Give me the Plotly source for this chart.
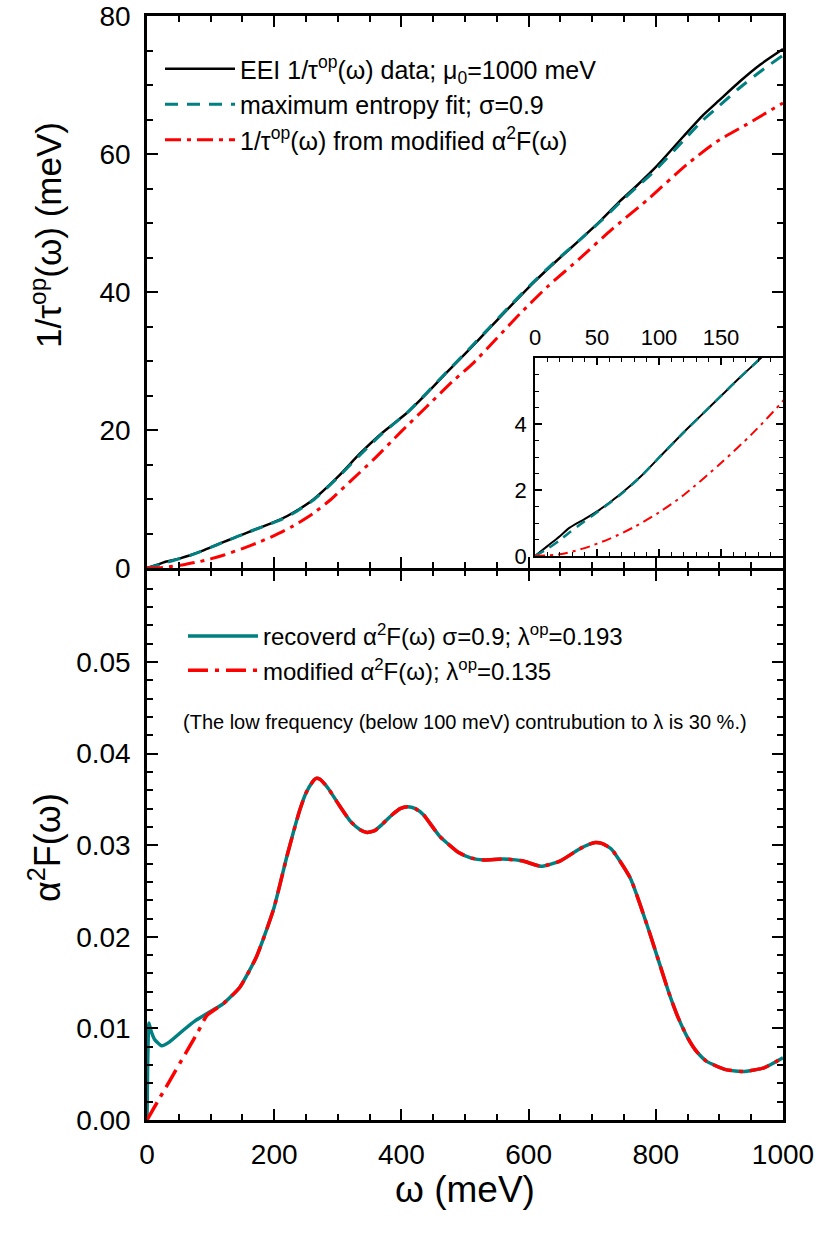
import plotly.graph_objects as go

# ---------------- data ----------------
# top panel: 1/tau_op(omega)
w_top = [0, 10, 20, 28, 40, 52, 68, 85, 100, 120, 135, 150, 165, 185, 209, 235, 261, 300,
         335, 370, 409, 440, 471, 505, 539, 572, 607, 645, 681, 715, 744, 770, 801, 843,
         874, 900, 932, 965, 1000]
tau_data = [0, 0.3, 0.6, 0.86, 1.12, 1.4, 1.85, 2.4, 2.98, 3.75, 4.3, 4.85, 5.4, 6.1, 7.0,
            8.3, 9.9, 13.2, 16.6, 19.6, 22.5, 25.3, 28.3, 31.5, 34.8, 38.0, 41.3, 44.6,
            47.6, 50.5, 53.2, 55.4, 58.2, 62.5, 65.6, 67.8, 70.5, 73.0, 75.2]
tau_fit = [0, 0.22, 0.48, 0.72, 1.05, 1.38, 1.83, 2.4, 2.98, 3.75, 4.3, 4.85, 5.4, 6.1, 6.95,
           8.2, 9.8, 13.1, 16.4, 19.5, 22.5, 25.4, 28.4, 31.6, 34.9, 38.1, 41.4, 44.7,
           47.6, 50.4, 53.0, 55.2, 57.8, 61.9, 64.9, 67.0, 69.6, 72.0, 74.3]
w_red = [0, 20, 40, 60, 80, 100, 120, 150, 175, 200, 230, 261, 290, 320, 356, 400, 440,
         480, 513, 550, 586, 630, 681, 730, 786, 849, 896, 943, 1000]
tau_mod = [0, 0.05, 0.24, 0.52, 0.88, 1.32, 1.85, 2.82, 3.7, 4.7, 6.1, 7.9, 10.0, 12.6, 15.7,
           19.8, 23.4, 27.0, 29.7, 33.3, 36.8, 40.8, 44.9, 49.0, 53.3, 58.5, 61.8, 64.3, 67.4]

# bottom panel: alpha^2 F(omega)
w_a2f = [0, 1, 3, 6, 12, 23, 35, 57, 75, 94, 120, 146, 172, 199, 220, 240, 250, 260, 266,
         272, 285, 300, 320, 335, 346, 358, 370, 385, 398, 410, 422, 435, 460, 490, 510,
         530, 560, 590, 620, 650, 680, 695, 705, 715, 730, 760, 790, 820, 835, 850, 865,
         880, 910, 940, 970, 1000]
a2f_rec = [0, 0.006, 0.0106, 0.0098, 0.0088, 0.0081, 0.0085, 0.0098, 0.0108, 0.0116,
           0.0127, 0.0145, 0.0178, 0.0230, 0.0288, 0.0338, 0.0357, 0.0369, 0.0373, 0.0372,
           0.0362, 0.0346, 0.0326, 0.0317, 0.0314, 0.0316, 0.0323, 0.0333, 0.0340, 0.0342,
           0.0340, 0.0333, 0.0310, 0.0292, 0.0286, 0.0284, 0.0285, 0.0283, 0.0277, 0.0283,
           0.0296, 0.0301, 0.0303, 0.0302, 0.0296, 0.0264, 0.0205, 0.0140, 0.0112, 0.0090,
           0.0074, 0.0064, 0.0055, 0.0053, 0.0057, 0.0068]
w_mod = [0, 20, 40, 60, 80, 94, 120, 146, 172, 199, 220, 240, 250, 260, 266, 272, 285, 300,
         320, 335, 346, 358, 370, 385, 398, 410, 422, 435, 460, 490, 510, 530, 560, 590,
         620, 650, 680, 695, 705, 715, 730, 760, 790, 820, 835, 850, 865, 880, 910, 940,
         970, 1000]
a2f_mod = [0, 0.0024, 0.0048, 0.0072, 0.0096, 0.0114, 0.0127, 0.0145, 0.0178, 0.0230,
           0.0288, 0.0338, 0.0357, 0.0369, 0.0373, 0.0372, 0.0362, 0.0346, 0.0326, 0.0317,
           0.0314, 0.0316, 0.0323, 0.0333, 0.0340, 0.0342, 0.0340, 0.0333, 0.0310, 0.0292,
           0.0286, 0.0284, 0.0285, 0.0283, 0.0277, 0.0283, 0.0296, 0.0301, 0.0303, 0.0302,
           0.0296, 0.0264, 0.0205, 0.0140, 0.0112, 0.0090, 0.0074, 0.0064, 0.0055, 0.0053,
           0.0057, 0.0068]

top_yticks = [0, 20, 40, 60, 80]
bot_yticks = [0, 0.01, 0.02, 0.03, 0.04, 0.05]
bot_ylabels = ["0.00", "0.01", "0.02", "0.03", "0.04", "0.05"]
x_ticks = [0, 200, 400, 600, 800, 1000]
inset_xticks = [0, 50, 100, 150]
inset_yticks = [0, 2, 4]

names_top = ["EEI 1/τ<sup>op</sup>(ω) data; μ<sub>0</sub>=1000 meV",
             "maximum entropy fit; σ=0.9",
             "1/τ<sup>op</sup>(ω) from modified α<sup>2</sup>F(ω)"]
names_bot = ["recoverd α<sup>2</sup>F(ω) σ=0.9; λ<sup>op</sup>=0.193",
             "modified α<sup>2</sup>F(ω); λ<sup>op</sup>=0.135"]
note = "(The low frequency (below 100 meV) contrubution to λ is 30 %.)"
ytitle_top = "1/τ<sup>op</sup>(ω) (meV)"
ytitle_bot = "α<sup>2</sup>F(ω)"
xtitle = "ω (meV)"

# ---------------- styling ----------------
TEAL = "#008080"
RED = "#ff0000"
FONT = "Arial"
RED_DASH = "16px,6px,4px,6px"
TEAL_DASH = "13px,9px"

# pixel geometry helpers (figure 818x1233, plot area x:147..783, y:16..1120)
L, R, T, B = 147, 35, 16, 113
PW, PH = 818 - L - R, 1233 - T - B
def px_x(p):
    return (p - L) / PW
def px_y(p):
    return (1233 - B - p) / PH

LW = 2.5  # frame line width
split = px_y(568)
split_low = px_y(568 + LW)

fig = go.Figure()

# top panel traces (main)
fig.add_trace(go.Scatter(x=w_top, y=tau_data, mode="lines", name=names_top[0],
                         line=dict(color="black", width=2.5, shape="spline", smoothing=0.6),
                         xaxis="x", yaxis="y", legend="legend"))
fig.add_trace(go.Scatter(x=w_top, y=tau_fit, mode="lines", name=names_top[1],
                         line=dict(color=TEAL, width=3, dash=TEAL_DASH, shape="spline", smoothing=0.6),
                         xaxis="x", yaxis="y", legend="legend"))
fig.add_trace(go.Scatter(x=w_red, y=tau_mod, mode="lines", name=names_top[2],
                         line=dict(color=RED, width=3, dash=RED_DASH, shape="spline", smoothing=0.6),
                         xaxis="x", yaxis="y", legend="legend"))

# inset traces
fig.add_trace(go.Scatter(x=w_top, y=tau_data, mode="lines", showlegend=False,
                         line=dict(color="black", width=2, shape="spline", smoothing=0.8),
                         xaxis="x3", yaxis="y3"))
fig.add_trace(go.Scatter(x=w_top, y=tau_fit, mode="lines", showlegend=False,
                         line=dict(color=TEAL, width=2.5, dash="10px,7px", shape="spline", smoothing=0.8),
                         xaxis="x3", yaxis="y3"))
fig.add_trace(go.Scatter(x=w_red, y=tau_mod, mode="lines", showlegend=False,
                         line=dict(color=RED, width=2, dash="10px,5px,3px,5px", shape="spline", smoothing=0.8),
                         xaxis="x3", yaxis="y3"))

# bottom panel traces
fig.add_trace(go.Scatter(x=w_a2f, y=a2f_rec, mode="lines", name=names_bot[0],
                         line=dict(color=TEAL, width=3.5, shape="spline", smoothing=0.5),
                         xaxis="x2", yaxis="y2", legend="legend2"))
fig.add_trace(go.Scatter(x=w_mod, y=a2f_mod, mode="lines", name=names_bot[1],
                         line=dict(color=RED, width=3.5, dash="20px,7px,4px,7px", shape="spline", smoothing=0.5),
                         xaxis="x2", yaxis="y2", legend="legend2"))

tick_font = dict(family=FONT, size=28, color="black")

frame = dict(showline=True, linecolor="black", linewidth=LW, mirror="ticks",
             ticks="inside", tickcolor="black", tickwidth=2, ticklen=11,
             showgrid=False, zeroline=False, automargin=False)
minor_style = dict(ticks="inside", ticklen=6, tickwidth=2, tickcolor="black")

fig.update_layout(
    width=818, height=1233,
    margin=dict(l=L, r=R, t=T, b=B, autoexpand=False),
    paper_bgcolor="white", plot_bgcolor="white",
    font=dict(family=FONT, color="black"),
    xaxis=dict(domain=[0, 1], anchor="y", range=[0, 1000], tickvals=x_ticks,
               showticklabels=False, minor=dict(dtick=50, **minor_style), **frame),
    yaxis=dict(domain=[split, 1], anchor="x", range=[0, 80], tickvals=top_yticks,
               tickfont=tick_font, ticklabelstandoff=8,
               minor=dict(dtick=5, **minor_style), **frame),
    xaxis2=dict(domain=[0, 1], anchor="y2", range=[0, 1000], tickvals=x_ticks,
                tickfont=tick_font, ticklabelstandoff=8,
                minor=dict(dtick=50, **minor_style), **frame),
    yaxis2=dict(domain=[0, split_low], anchor="x2", range=[0, 0.06], tickvals=bot_yticks,
                ticktext=bot_ylabels, tickfont=tick_font, ticklabelstandoff=8,
                minor=dict(dtick=0.002, **minor_style), **frame),
    xaxis3=dict(domain=[px_x(535), 1.0], anchor="y3", range=[0, 200], side="top",
                tickvals=inset_xticks, tickfont=dict(family=FONT, size=22, color="black"),
                showline=True, linecolor="black", linewidth=1.5, mirror="ticks",
                ticks="inside", tickcolor="black", tickwidth=1.5, ticklen=7,
                ticklabelstandoff=2, automargin=False,
                minor=dict(dtick=10, ticks="inside", ticklen=4, tickwidth=1, tickcolor="black"),
                showgrid=False, zeroline=False),
    yaxis3=dict(domain=[px_y(556), px_y(358)], anchor="x3", range=[0, 6],
                tickvals=inset_yticks, tickfont=dict(family=FONT, size=22, color="black"),
                showline=True, linecolor="black", linewidth=1.5, mirror="ticks",
                ticks="inside", tickcolor="black", tickwidth=1.5, ticklen=7,
                ticklabelstandoff=2, automargin=False,
                minor=dict(dtick=0.5, ticks="inside", ticklen=4, tickwidth=1, tickcolor="black"),
                showgrid=False, zeroline=False),
    legend=dict(x=px_x(160), y=px_y(46), xanchor="left", yanchor="top",
                bgcolor="rgba(0,0,0,0)", borderwidth=0,
                font=dict(family=FONT, size=25, color="black"),
                itemwidth=70, tracegroupgap=0),
    legend2=dict(x=px_x(183), y=px_y(614), xanchor="left", yanchor="top",
                 bgcolor="rgba(0,0,0,0)", borderwidth=0,
                 font=dict(family=FONT, size=24, color="black"),
                 itemwidth=70, tracegroupgap=0),
    annotations=[
        dict(text=note, x=px_x(465), y=px_y(722), xref="paper", yref="paper",
             xanchor="center", yanchor="middle", showarrow=False,
             font=dict(family=FONT, size=20, color="black")),
        dict(text=ytitle_top, x=px_x(46), y=px_y(235), xref="paper", yref="paper",
             xanchor="center", yanchor="middle", showarrow=False, textangle=-90,
             font=dict(family=FONT, size=35, color="black")),
        dict(text=ytitle_bot, x=px_x(45), y=px_y(848), xref="paper", yref="paper",
             xanchor="center", yanchor="middle", showarrow=False, textangle=-90,
             font=dict(family=FONT, size=36, color="black")),
        dict(text=xtitle, x=px_x(465), y=px_y(1189), xref="paper", yref="paper",
             xanchor="center", yanchor="middle", showarrow=False,
             font=dict(family=FONT, size=37, color="black")),
    ],
)

fig.write_html("out.html")
